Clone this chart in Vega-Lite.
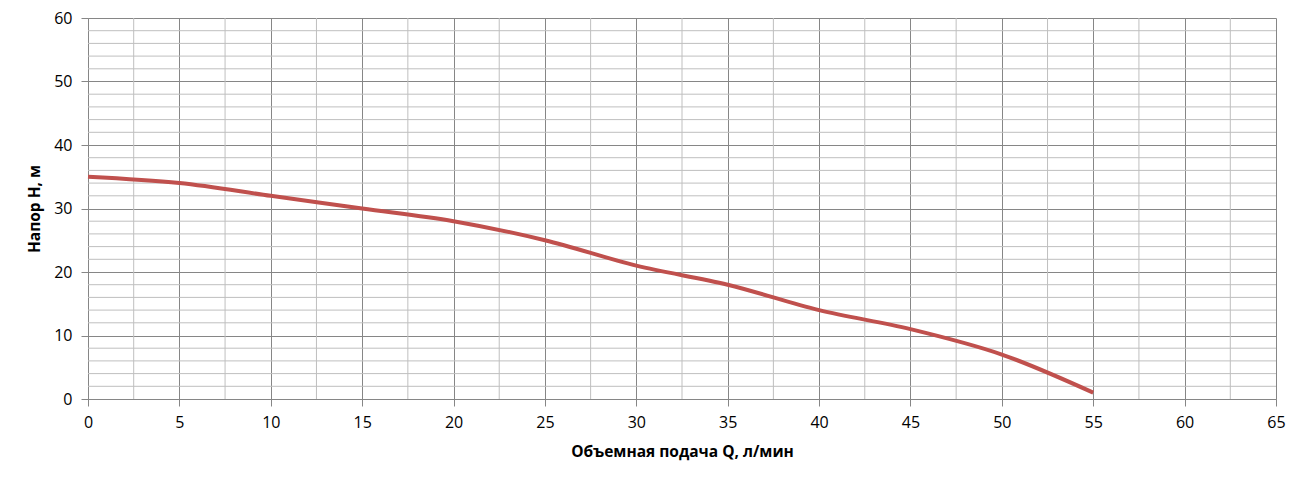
{
  "$schema": "https://vega.github.io/schema/vega-lite/v6.json",
  "width": 1188,
  "height": 381,
  "autosize": "none",
  "padding": {"left": 88, "top": 18, "right": 37, "bottom": 78},
  "background": "white",
  "config": {
    "view": {"stroke": null},
    "font": "Open Sans",
    "axis": {
      "labelFont": "Open Sans",
      "labelFontSize": 16,
      "labelColor": "#000000",
      "labelFlush": false,
      "titleFont": "Open Sans",
      "titleFontSize": 15.5,
      "titleFontWeight": "bold",
      "titleColor": "#000000",
      "gridColor": "#868686",
      "gridOpacity": 1,
      "domainColor": "#868686",
      "tickColor": "#868686",
      "tickSize": 7
    }
  },
  "datasets": {
    "curve": [
      {"q": 0, "h": 35},
      {"q": 5, "h": 34},
      {"q": 10, "h": 32},
      {"q": 15, "h": 30},
      {"q": 20, "h": 28},
      {"q": 25, "h": 25},
      {"q": 30, "h": 21},
      {"q": 35, "h": 18},
      {"q": 40, "h": 14},
      {"q": 45, "h": 11},
      {"q": 50, "h": 7},
      {"q": 55, "h": 1}
    ],
    "minorQ": [
      {"q": 2.5}, {"q": 7.5}, {"q": 12.5}, {"q": 17.5}, {"q": 22.5}, {"q": 27.5},
      {"q": 32.5}, {"q": 37.5}, {"q": 42.5}, {"q": 47.5}, {"q": 52.5}, {"q": 57.5}, {"q": 62.5}
    ],
    "minorH": [
      {"h": 2}, {"h": 4}, {"h": 6}, {"h": 8},
      {"h": 12}, {"h": 14}, {"h": 16}, {"h": 18},
      {"h": 22}, {"h": 24}, {"h": 26}, {"h": 28},
      {"h": 32}, {"h": 34}, {"h": 36}, {"h": 38},
      {"h": 42}, {"h": 44}, {"h": 46}, {"h": 48},
      {"h": 52}, {"h": 54}, {"h": 56}, {"h": 58}
    ]
  },
  "layer": [
    {
      "data": {"name": "minorQ"},
      "mark": {"type": "rule", "color": "#bfbfbf", "strokeWidth": 1},
      "encoding": {
        "x": {"field": "q", "type": "quantitative", "scale": {"domain": [0, 65], "nice": false}}
      }
    },
    {
      "data": {"name": "minorH"},
      "mark": {"type": "rule", "color": "#bfbfbf", "strokeWidth": 1},
      "encoding": {
        "y": {"field": "h", "type": "quantitative", "scale": {"domain": [0, 60], "nice": false}}
      }
    },
    {
      "data": {"name": "curve"},
      "mark": {"type": "line", "color": "#c0504d", "strokeWidth": 4, "interpolate": "monotone", "strokeCap": "butt"},
      "encoding": {
        "x": {
          "field": "q",
          "type": "quantitative",
          "scale": {"domain": [0, 65], "nice": false},
          "axis": {
            "values": [0, 5, 10, 15, 20, 25, 30, 35, 40, 45, 50, 55, 60, 65],
            "grid": true,
            "labelPadding": 8,
            "title": "Объемная подача Q, л/мин",
            "titlePadding": 14
          }
        },
        "y": {
          "field": "h",
          "type": "quantitative",
          "scale": {"domain": [0, 60], "nice": false},
          "axis": {
            "values": [0, 10, 20, 30, 40, 50, 60],
            "grid": true,
            "labelPadding": 9,
            "title": "Напор H, м",
            "titlePadding": 11
          }
        }
      }
    }
  ]
}
